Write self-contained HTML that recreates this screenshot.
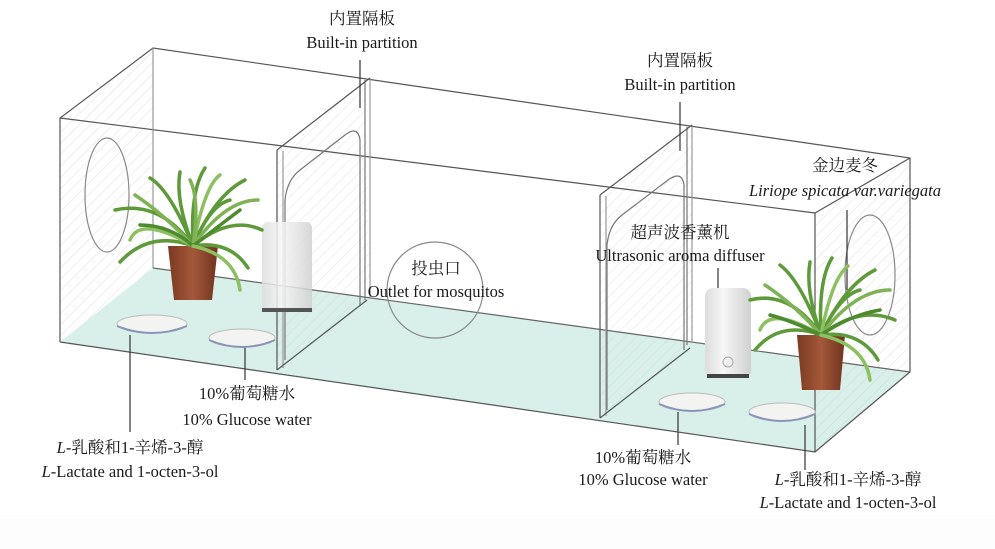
<!DOCTYPE html>
<html><head><meta charset="utf-8"><style>
body{margin:0;background:#fff;}
svg{display:block}
text{font-family:"Liberation Serif","Noto Serif CJK SC","Noto Sans CJK SC",serif;font-size:16.5px;fill:#1a1a1a;text-anchor:middle}
</style></head><body>
<svg width="995" height="549" viewBox="0 0 995 549" xmlns="http://www.w3.org/2000/svg">
<defs>
<pattern id="h" width="8" height="8" patternUnits="userSpaceOnUse" patternTransform="rotate(45)">
<line x1="0" y1="0" x2="0" y2="8" stroke="#ccc" stroke-width="1"/>
</pattern>
<linearGradient id="pot" x1="0" x2="1"><stop offset="0" stop-color="#7a3a22"/><stop offset=".5" stop-color="#a5583a"/><stop offset="1" stop-color="#6e3320"/></linearGradient>
<linearGradient id="dif" x1="0" x2="1"><stop offset="0" stop-color="#ddd"/><stop offset=".4" stop-color="#f6f6f6"/><stop offset="1" stop-color="#d0d0d0"/></linearGradient>
</defs>
<rect width="995" height="549" fill="#fff"/>
<rect x="0" y="515" width="995" height="34" fill="#fdfdfd"/>
<polygon points="60,342 153,268 910,372 815,452" fill="#d8efea"/>
<polygon points="60,118 153,48 153,268 60,342" fill="url(#h)" opacity=".6"/>
<polygon points="815,213 910,158 910,372 815,452" fill="url(#h)" opacity=".6"/>
<polygon points="277,150 365,80 370,300 277,370" fill="url(#h)" opacity=".5"/>
<polygon points="600,195 692,125 692,345 600,418" fill="url(#h)" opacity=".5"/>
<g fill="none" stroke="#555" stroke-width="1.2">
<polyline points="60,342 60,118 153,48 910,158 910,372 815,452 60,342"/>
<line x1="60" y1="118" x2="815" y2="213"/>
<line x1="815" y1="213" x2="815" y2="452"/>
<line x1="815" y1="213" x2="910" y2="158"/>
<line x1="153" y1="48" x2="153" y2="268" stroke="#999"/>
<line x1="153" y1="268" x2="910" y2="372" stroke="#666"/>
<line x1="277" y1="150" x2="277" y2="370"/>
<line x1="283" y1="151" x2="283" y2="368" stroke="#999"/>
<line x1="365" y1="80" x2="365" y2="300" stroke="#777"/>
<line x1="370" y1="78" x2="370" y2="298" stroke="#999"/>
<line x1="277" y1="150" x2="370" y2="78"/>
<line x1="277" y1="370" x2="367" y2="300"/>
<path d="M285,360 L285,200 Q287,180 300,170 L345,135 Q358,125 360,140 L360,305" stroke="#777"/>
<line x1="600" y1="195" x2="600" y2="418"/>
<line x1="606" y1="196" x2="606" y2="416" stroke="#999"/>
<line x1="687" y1="127" x2="687" y2="345" stroke="#777"/>
<line x1="692" y1="125" x2="692" y2="343" stroke="#999"/>
<line x1="600" y1="195" x2="692" y2="125"/>
<line x1="600" y1="418" x2="690" y2="348"/>
<path d="M607,410 L607,245 Q609,225 622,215 L668,180 Q682,170 684,185 L684,350" stroke="#777"/>
<ellipse cx="107" cy="195" rx="22" ry="57" stroke="#888"/>
<ellipse cx="870" cy="275" rx="25" ry="60" stroke="#888"/>
<circle cx="435" cy="290" r="48" stroke="#888"/>
<line x1="360" y1="60" x2="360" y2="108" stroke="#333"/>
<line x1="680" y1="102" x2="680" y2="151" stroke="#333"/>
<line x1="847" y1="210" x2="847" y2="290" stroke="#333"/>
<line x1="718" y1="268" x2="718" y2="292" stroke="#333"/>
<line x1="245" y1="345" x2="245" y2="380" stroke="#333"/>
<line x1="130" y1="335" x2="130" y2="432" stroke="#333"/>
<line x1="678" y1="412" x2="678" y2="445" stroke="#333"/>
<line x1="805" y1="425" x2="805" y2="470" stroke="#333"/>
</g>
<rect x="262" y="222" width="50" height="90" rx="6" fill="url(#dif)" opacity=".85"/>
<rect x="262" y="308" width="50" height="4" fill="#555"/>
<rect x="705" y="288" width="46" height="90" rx="8" fill="url(#dif)"/>
<rect x="707" y="374" width="42" height="4" fill="#444"/>
<circle cx="728" cy="362" r="5" fill="none" stroke="#aaa"/>
<g>
<ellipse cx="152" cy="324" rx="35" ry="9" fill="#f3f3f1" stroke="#bbb"/><path d="M117,326 Q152,340 187,326" stroke="#8a94b8" stroke-width="2" fill="none"/>
<ellipse cx="242" cy="338" rx="33" ry="9" fill="#f3f3f1" stroke="#bbb"/><path d="M209,340 Q242,354 275,340" stroke="#8a94b8" stroke-width="2" fill="none"/>
<ellipse cx="692" cy="402" rx="33" ry="9" fill="#f3f3f1" stroke="#bbb"/><path d="M659,404 Q692,418 725,404" stroke="#8a94b8" stroke-width="2" fill="none"/>
<ellipse cx="782" cy="412" rx="33" ry="9" fill="#f3f3f1" stroke="#bbb"/><path d="M749,414 Q782,428 815,414" stroke="#8a94b8" stroke-width="2" fill="none"/>
</g>
<g>
<path d="M168,246 L218,246 L212,300 L174,300 Z" fill="url(#pot)"/>
<g stroke="#5f9a3a" stroke-width="3.5" fill="none" stroke-linecap="round">
<path d="M193,246 Q160,200 115,210"/><path d="M193,246 Q170,190 150,178"/><path d="M193,246 Q190,190 205,168"/>
<path d="M193,246 Q215,195 245,180"/><path d="M193,246 Q230,215 262,230"/><path d="M193,246 Q150,230 120,262"/>
<path d="M193,246 Q230,240 248,268"/><path d="M193,246 Q175,200 180,172"/><path d="M193,246 Q210,205 230,200"/>
<path d="M193,246 Q140,215 130,240" stroke="#8cc060"/><path d="M193,246 Q205,185 220,175" stroke="#8cc060"/>
<path d="M193,246 Q165,215 135,195" stroke="#7fb255"/><path d="M193,246 Q200,200 190,180" stroke="#7fb255"/>
<path d="M193,246 Q225,200 258,200" stroke="#7fb255"/><path d="M193,246 Q170,225 140,225" stroke="#4e8a2e"/>
<path d="M193,246 Q220,225 240,210" stroke="#4e8a2e"/><path d="M193,246 Q235,255 240,290" stroke="#8cc060"/>
</g>
<path d="M797,335 L845,335 L840,390 L802,390 Z" fill="url(#pot)"/>
<g stroke="#5f9a3a" stroke-width="3.5" fill="none" stroke-linecap="round">
<path d="M821,335 Q790,290 750,300"/><path d="M821,335 Q800,280 780,265"/><path d="M821,335 Q818,280 832,258"/>
<path d="M821,335 Q845,285 875,270"/><path d="M821,335 Q860,305 895,320"/><path d="M821,335 Q780,320 755,350"/>
<path d="M821,335 Q860,330 878,360"/><path d="M821,335 Q805,290 810,262"/><path d="M821,335 Q840,295 860,290"/>
<path d="M821,335 Q770,305 760,330" stroke="#8cc060"/><path d="M821,335 Q832,278 848,266" stroke="#8cc060"/>
<path d="M821,335 Q795,305 765,285" stroke="#7fb255"/><path d="M821,335 Q855,290 890,290" stroke="#7fb255"/>
<path d="M821,335 Q790,320 770,315" stroke="#4e8a2e"/><path d="M821,335 Q850,315 880,310" stroke="#4e8a2e"/>
<path d="M821,335 Q865,345 870,380" stroke="#8cc060"/>
</g>
</g>
<text x="362" y="24">内置隔板</text>
<text x="362" y="48">Built-in partition</text>
<text x="680" y="66">内置隔板</text>
<text x="680" y="90">Built-in partition</text>
<text x="845" y="171">金边麦冬</text>
<text x="845" y="196" font-style="italic">Liriope spicata var.variegata</text>
<text x="680" y="238">超声波香薰机</text>
<text x="680" y="261">Ultrasonic aroma diffuser</text>
<text x="436" y="274">投虫口</text>
<text x="436" y="297">Outlet for mosquitos</text>
<text x="247" y="399">10%葡萄糖水</text>
<text x="247" y="425">10% Glucose water</text>
<text x="130" y="453"><tspan font-style="italic">L</tspan>-乳酸和1-辛烯-3-醇</text>
<text x="130" y="477"><tspan font-style="italic">L</tspan>-Lactate and 1-octen-3-ol</text>
<text x="643" y="463">10%葡萄糖水</text>
<text x="643" y="485">10% Glucose water</text>
<text x="848" y="485"><tspan font-style="italic">L</tspan>-乳酸和1-辛烯-3-醇</text>
<text x="848" y="508"><tspan font-style="italic">L</tspan>-Lactate and 1-octen-3-ol</text>
</svg>
</body></html>
